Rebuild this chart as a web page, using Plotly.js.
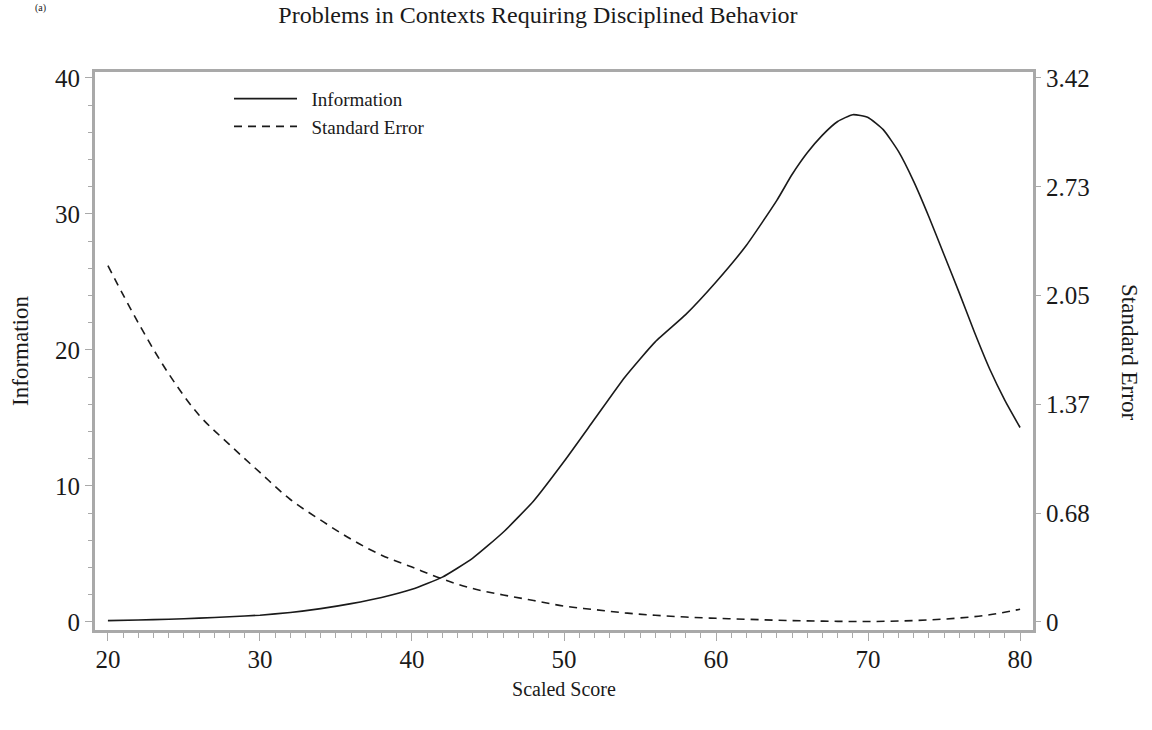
<!DOCTYPE html>
<html>
<head>
<meta charset="utf-8">
<script src="https://cdn.plot.ly/plotly-3.0.1.min.js"></script>
<style>html,body{margin:0;padding:0;background:#fff;}#chart{width:1152px;height:730px;}</style>
</head>
<body>
<div id="chart"></div>
<script>
// Scaled score grid
const scoreX = [20,22,24,26,28,30,32,34,36,38,40,42,44,46,48,50,52,54,56,58,60,62,64,65,66,67,68,69,70,71,72,73,74,75,76,77,78,79,80];
// Information values (left axis)
const information = [0.10,0.15,0.20,0.28,0.38,0.50,0.70,0.98,1.35,1.80,2.40,3.30,4.70,6.60,8.90,11.8,14.9,18.0,20.6,22.6,25.0,27.7,31.0,32.9,34.5,35.8,36.8,37.3,37.1,36.2,34.6,32.4,29.8,27.0,24.2,21.3,18.6,16.3,14.3];
// Standard error values (right axis)
const seX = [20,22,24,26,28,30,32,34,36,38,40,42,44,46,48,50,52,54,56,58,60,62,64,66,68,70,72,74,76,78,80];
const standardError = [2.24,1.88,1.56,1.30,1.115,0.94,0.77,0.64,0.52,0.42,0.345,0.27,0.21,0.17,0.135,0.10,0.078,0.057,0.042,0.031,0.023,0.017,0.011,0.007,0.004,0.003,0.006,0.013,0.025,0.045,0.080];
// Tick labels
const xTicks = [20,30,40,50,60,70,80];
const yTicks = [0,10,20,30,40];
const seTickVals = [0,0.684,1.368,2.052,2.736,3.42];
const seTickText = ["0","0.68","1.37","2.05","2.73","3.42"];
// Legend names
const seriesNames = ["Information", "Standard Error"];

const serif = "Liberation Serif, Times New Roman, serif";
const ink = "#1a1a1a";
const frame = "#a9a9a9";
const gap = "\u00a0\u00a0";

const traces = [
  {x: scoreX, y: information, name: gap + seriesNames[0], type: "scatter", mode: "lines",
   line: {color: ink, width: 1.6, shape: "spline", smoothing: 0.5}, yaxis: "y"},
  {x: seX, y: standardError, name: gap + seriesNames[1], type: "scatter", mode: "lines",
   line: {color: ink, width: 1.6, dash: "8px,6px", shape: "spline", smoothing: 1}, yaxis: "y2"}
];

const yMin = -0.59, yMax = 40.44, seScale = 3.42/40;

const layout = {
  width: 1152, height: 730,
  margin: {l: 95, r: 119, t: 72, b: 100},
  paper_bgcolor: "#fff", plot_bgcolor: "#fff",
  font: {family: serif, color: ink, size: 20},
  title: {text: "Problems in Contexts Requiring Disciplined Behavior",
          font: {family: serif, size: 24, color: ink},
          x: 544/1152, xanchor: "center", xref: "paper",
          y: 1 - 15/730, yanchor: "middle", yref: "container"},
  showlegend: true,
  legend: {x: (229-95)/938, xanchor: "left", y: 0.986, yanchor: "top",
           bgcolor: "rgba(0,0,0,0)", borderwidth: 0,
           font: {family: serif, size: 19, color: ink}, itemwidth: 63,
           tracegroupgap: 0},
  xaxis: {range: [19.15, 80.85], tickvals: xTicks, ticks: "outside", ticklen: 8,
          tickwidth: 1, tickcolor: frame, showline: true, linecolor: frame, linewidth: 3,
          mirror: true, showgrid: false, zeroline: false,
          minor: {dtick: 1, ticks: "outside", ticklen: 5, tickcolor: frame, tickwidth: 1, showgrid: false},
          tickfont: {family: serif, size: 25, color: ink}, ticklabelstandoff: -3,
          title: {text: "Scaled Score", font: {family: serif, size: 20, color: ink}, standoff: 10}},
  yaxis: {range: [yMin, yMax], tickvals: yTicks, ticks: "outside", ticklen: 7,
          tickwidth: 1, tickcolor: frame, showline: true, linecolor: frame, linewidth: 3,
          mirror: true, showgrid: false, zeroline: false,
          minor: {dtick: 2, ticks: "outside", ticklen: 4, tickcolor: frame, tickwidth: 1, showgrid: false},
          tickfont: {family: serif, size: 25, color: ink},
          title: {text: "Information", font: {family: serif, size: 23, color: ink}, standoff: 20}},
  yaxis2: {range: [yMin*seScale, yMax*seScale], overlaying: "y", side: "right",
           tickvals: seTickVals, ticktext: seTickText, ticks: "outside", ticklen: 7,
           tickwidth: 1, tickcolor: frame, showline: false, showgrid: false, zeroline: false,
           tickfont: {family: serif, size: 25, color: ink}},
  annotations: [
    {text: "Standard Error", textangle: 90, xref: "paper", yref: "paper",
     x: (1130-95)/938, y: (630-352)/558, xanchor: "center", yanchor: "middle",
     showarrow: false, font: {family: serif, size: 23, color: ink}},
    {text: "(a)", xref: "paper", yref: "paper", x: (40-95)/938, y: (630-0)/558,
     xanchor: "center", yanchor: "top", showarrow: false,
     font: {family: serif, size: 10, color: ink}}
  ]
};

Plotly.newPlot("chart", traces, layout, {displayModeBar: false, staticPlot: true});
</script>
</body>
</html>
